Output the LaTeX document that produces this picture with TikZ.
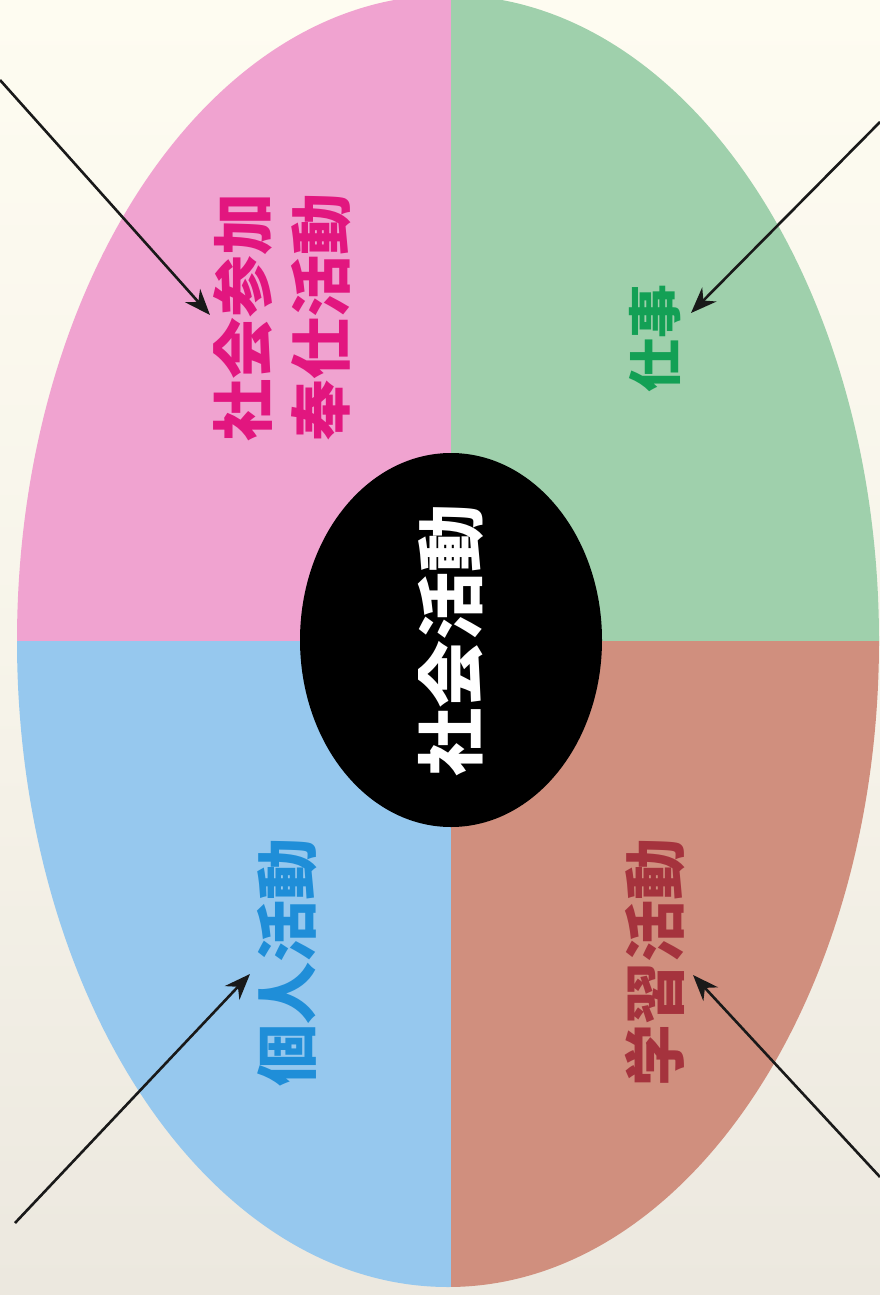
\documentclass[tikz,border=0pt]{standalone}
\usepackage{fontspec}
\newfontfamily\cjk{Noto Sans CJK JP}
\usetikzlibrary{arrows.meta,shapes.geometric}
\definecolor{bgtop}{HTML}{FEFCF1}
\definecolor{bgbot}{HTML}{ECE8DF}
\definecolor{qpink}{HTML}{F0A3D0}
\definecolor{qgreen}{HTML}{9FD0AC}
\definecolor{qblue}{HTML}{96C8EE}
\definecolor{qbrown}{HTML}{D08F7E}
\definecolor{tpink}{HTML}{E2167F}
\definecolor{tgreen}{HTML}{13A055}
\definecolor{tblue}{HTML}{1F8ED8}
\definecolor{tbrown}{HTML}{A5333D}
\tikzset{
  lbl/.style={font=\cjk\bfseries\fontsize{62}{70}\selectfont, rotate=90, inner sep=0pt, align=center},
  pointer/.style={draw=black!90, line width=2.6pt, -{Stealth[length=26pt,width=20pt]}}
}
\begin{document}
\begin{tikzpicture}[x=1pt,y=-1pt]
\useasboundingbox (0,0) rectangle (880,1295);
\shade[top color=bgtop, bottom color=bgbot, middle color=bgtop!60!bgbot] (0,0) rectangle (880,1295);
\begin{scope}
  \clip (448,641) ellipse [x radius=431, y radius=646];
  \fill[qpink] (0,-10) rectangle (451,641);
  \fill[qgreen] (451,-10) rectangle (890,641);
  \fill[qblue] (0,641) rectangle (451,1300);
  \fill[qbrown] (451,641) rectangle (890,1300);
\end{scope}
\node[ellipse, fill=black, minimum width=302pt, minimum height=374pt, inner sep=0pt] (c) at (451,640) {};
\node[lbl, text=white, font=\cjk\bfseries\fontsize{68}{70}\selectfont] (ct) at (451,640) {社会活動};
\node[lbl, text=tpink, align=left] (soc) at (282,317) {社会参加\\[8pt]奉仕活動};
\node[lbl, text=tgreen, font=\cjk\bfseries\fontsize{54}{60}\selectfont] (job) at (655,338) {仕事};
\node[lbl, text=tblue] (ind) at (287,962) {個人活動};
\node[lbl, text=tbrown] (stu) at (655,962) {学習活動};
\coordinate (s1) at (0,80);
\coordinate (t1) at (210,315);
\coordinate (s2) at (880,122);
\coordinate (t2) at (691,313);
\coordinate (s3) at (15,1223);
\coordinate (t3) at (250,974);
\coordinate (s4) at (880,1177);
\coordinate (t4) at (693,975);
\draw[pointer] (s1) -- (t1);
\draw[pointer] (s2) -- (t2);
\draw[pointer] (s3) -- (t3);
\draw[pointer] (s4) -- (t4);
\end{tikzpicture}
\end{document}
